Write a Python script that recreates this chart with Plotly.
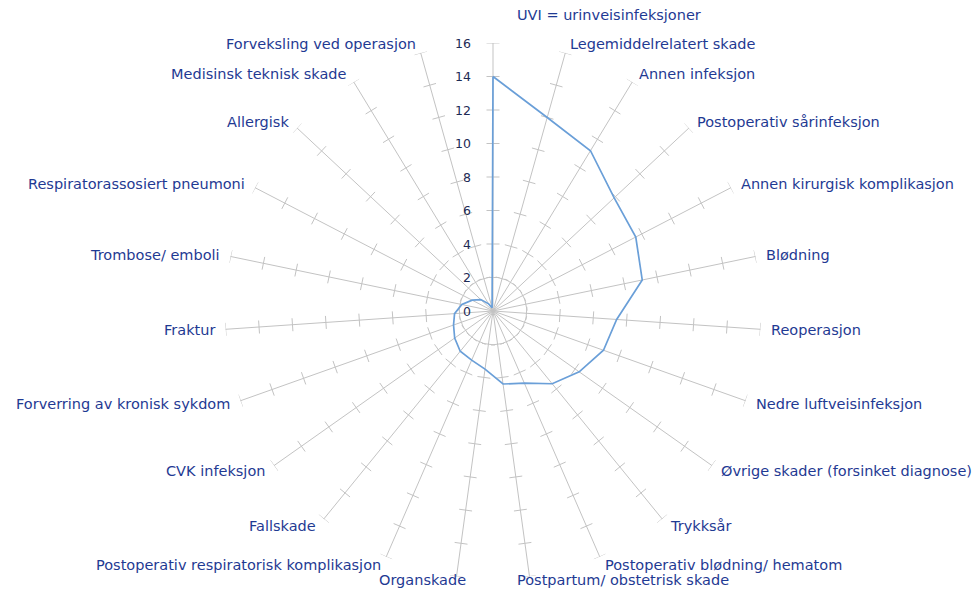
import math
import plotly.graph_objects as go

categories = [
    "UVI = urinveisinfeksjoner",
    "Legemiddelrelatert skade",
    "Annen infeksjon",
    "Postoperativ sårinfeksjon",
    "Annen kirurgisk komplikasjon",
    "Blødning",
    "Reoperasjon",
    "Nedre luftveisinfeksjon",
    "Øvrige skader (forsinket diagnose)",
    "Trykksår",
    "Postoperativ blødning/ hematom",
    "Postpartum/ obstetrisk skade",
    "Organskade",
    "Postoperativ respiratorisk komplikasjon",
    "Fallskade",
    "CVK infeksjon",
    "Forverring av kronisk sykdom",
    "Fraktur",
    "Trombose/ emboli",
    "Respiratorassosiert pneumoni",
    "Allergisk",
    "Medisinsk teknisk skade",
    "Forveksling ved operasjon",
]
values = [14.0, 12.0, 11.2, 9.9, 9.6, 9.1, 7.4, 7.0, 6.3, 5.6, 4.7, 4.4,
          3.5, 3.2, 3.1, 2.8, 2.5, 2.3, 1.9, 1.4, 1.0, 0.5, 0.2]
radial_ticks = [0, 2, 4, 6, 8, 10, 12, 14, 16]

W, H = 978, 592
ML, MR, MT, MB = 58, 50, 43, 13
RMAX = 16
n = len(categories)
angles = [i * 360.0 / n for i in range(n)]

plot_w = W - ML - MR
plot_h = H - MT - MB
R_PX = min(plot_w, plot_h) / 2.0
CX = ML + plot_w / 2.0
CY = MT + plot_h / 2.0
px_per_unit = R_PX / RMAX

GRID = "#C3C3C3"
LABEL = "#1F3A93"
LINE = "#6A9FD8"

fig = go.Figure()

# perpendicular tick marks on every spoke
half = 6.5 / px_per_unit
tr, tt = [], []
for a in angles:
    for rv in radial_ticks[1:]:
        d = math.degrees(math.atan2(half, rv))
        rr = math.hypot(rv, half)
        tr += [rr, rr, None]
        tt += [a - d, a + d, None]
fig.add_trace(go.Scatterpolar(
    r=tr, theta=tt, mode="lines", line=dict(color=GRID, width=1),
    hoverinfo="skip", showlegend=False, cliponaxis=False, connectgaps=False))

# data series
fig.add_trace(go.Scatterpolar(
    r=values + [values[0]], theta=angles + [angles[0]], mode="lines",
    line=dict(color=LINE, width=1.7), showlegend=False, cliponaxis=False))

# category labels
annotations = []
for i, (cat, a) in enumerate(zip(categories, angles)):
    t = math.radians(a)
    s, c = math.sin(t), math.cos(t)
    if abs(s) < 0.05 and c > 0:
        gap = 28
        x = CX + 22
        xa = "left"
    elif abs(s) < 0.2 and c < 0:
        gap = 9
        x = CX + (22 if s > 0 else -25)
        xa = "left" if s > 0 else "right"
    else:
        gap = 9
        x = CX + (R_PX + gap) * s
        xa = "left" if s > 0 else "right"
    y = CY - (R_PX + gap) * c
    y = min(y, 580)
    annotations.append(dict(
        text=cat, x=(x - ML) / plot_w, y=(H - MB - y) / plot_h,
        xref="paper", yref="paper", xanchor=xa, yanchor="middle",
        showarrow=False, font=dict(family="DejaVu Sans", size=14.5, color=LABEL)))

# radial value labels left of the top spoke
for v in radial_ticks:
    y = CY - v * px_per_unit
    annotations.append(dict(
        text=str(v), x=(CX - 20 - ML) / plot_w, y=(H - MB - y) / plot_h,
        xref="paper", yref="paper", xanchor="right", yanchor="middle",
        showarrow=False, font=dict(family="DejaVu Sans", size=12.5, color="#1E2A55")))

fig.update_layout(
    width=W, height=H,
    margin=dict(l=ML, r=MR, t=MT, b=MB, pad=0),
    paper_bgcolor="white",
    plot_bgcolor="white",
    showlegend=False,
    annotations=annotations,
    polar=dict(
        domain=dict(x=[0, 1], y=[0, 1]),
        bgcolor="white",
        hole=0,
        radialaxis=dict(range=[0, RMAX], tickvals=radial_ticks, showgrid=False,
                        showline=False, showticklabels=False, ticks=""),
        angularaxis=dict(type="linear", thetaunit="degrees", rotation=90,
                         direction="clockwise", tickmode="array",
                         tickvals=angles, ticktext=categories,
                         showticklabels=False, ticks="", showgrid=True,
                         gridcolor=GRID, gridwidth=1, showline=False),
    ),
)

fig.write_html("out.html")
